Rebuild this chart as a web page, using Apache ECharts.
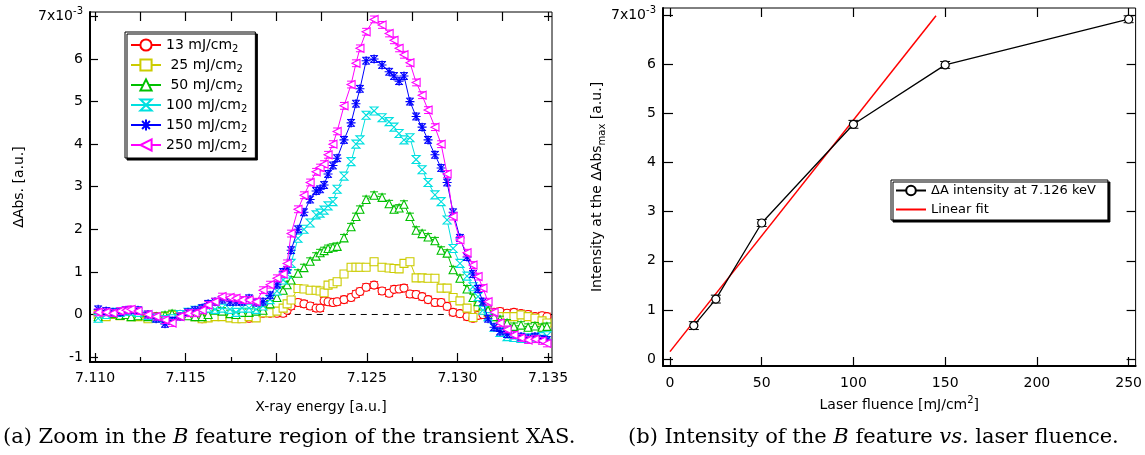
<!DOCTYPE html>
<html><head><meta charset="utf-8">
<script src="https://cdn.jsdelivr.net/npm/echarts@6/dist/echarts.min.js"></script>
<style>html,body{margin:0;padding:0;background:#fff}#c{width:1145px;height:455px}</style>
</head><body><div id="c"></div>
<script>
// ---------- data: panel (a) ----------
const energy = [7.11017,7.11061,7.11099,7.11138,7.11171,7.11199,7.11237,7.11292,7.11337,7.11386,
7.11425,7.11469,7.11513,7.11552,7.11591,7.11624,7.11662,7.11701,7.11745,7.11778,
7.11811,7.11850,7.11889,7.11927,7.11966,7.12004,7.12038,7.12060,7.12082,7.12120,
7.12153,7.12187,7.12220,7.12242,7.12264,7.12286,7.12313,7.12336,7.12374,7.12413,
7.12440,7.12462,7.12496,7.12540,7.12584,7.12623,7.12650,7.12678,7.12705,7.12738,
7.12772,7.12805,7.12838,7.12876,7.12910,7.12943,7.12976,7.13014,7.13053,7.13086,
7.13114,7.13141,7.13169,7.13202,7.13235,7.13274,7.13312,7.13351,7.13390,7.13428,
7.13467,7.13494];
const abs13 = [0.00,-0.02,0.00,0.02,0.00,-0.03,0.00,-0.02,-0.05,-0.05,
-0.03,-0.02,0.00,-0.05,-0.10,-0.05,-0.03,-0.02,-0.05,-0.08,
-0.09,-0.09,-0.05,0.03,0.03,0.03,0.03,0.10,0.20,0.28,
0.25,0.20,0.15,0.15,0.32,0.30,0.28,0.30,0.35,0.40,
0.48,0.54,0.64,0.69,0.55,0.50,0.59,0.60,0.62,0.48,
0.47,0.42,0.35,0.28,0.28,0.19,0.05,0.02,-0.05,-0.09,
-0.02,0.00,0.05,0.05,0.07,0.03,0.05,0.02,0.00,-0.05,
-0.03,-0.05];
const abs25 = [0.00,-0.05,0.00,-0.03,0.02,-0.05,-0.05,-0.10,-0.08,-0.05,
-0.02,0.00,0.00,-0.05,-0.10,-0.08,-0.05,-0.05,-0.08,-0.10,
-0.10,-0.05,-0.08,0.04,0.04,0.08,0.15,0.25,0.34,0.61,
0.60,0.57,0.57,0.55,0.51,0.69,0.72,0.77,0.95,1.11,
1.11,1.11,1.11,1.24,1.11,1.09,1.08,1.07,1.20,1.24,
0.86,0.86,0.85,0.85,0.62,0.62,0.40,0.32,0.15,-0.07,
0.18,0.10,0.05,0.00,-0.05,-0.05,-0.05,-0.01,-0.05,-0.09,
-0.15,-0.20];
const abs50 = [-0.05,0.00,0.02,-0.02,0.00,-0.05,-0.03,-0.05,-0.05,-0.02,
0.02,0.00,-0.03,-0.05,-0.05,0.00,0.10,0.08,0.02,0.00,
0.05,0.05,0.08,0.10,0.25,0.40,0.57,0.70,0.81,0.97,
1.10,1.25,1.37,1.45,1.50,1.55,1.58,1.60,1.80,2.06,
2.30,2.47,2.70,2.80,2.75,2.60,2.47,2.50,2.59,2.30,
1.98,1.90,1.82,1.73,1.51,1.44,1.05,0.85,0.60,0.40,
0.30,0.20,0.10,-0.05,-0.12,-0.20,-0.28,-0.25,-0.30,-0.27,
-0.30,-0.28];
const abs100 = [-0.09,0.00,0.05,0.05,0.08,0.08,0.05,-0.02,-0.08,-0.12,
-0.10,0.00,0.05,0.10,0.12,0.15,0.12,0.15,0.12,0.05,
0.15,0.15,0.12,0.20,0.35,0.55,0.81,0.95,1.20,1.79,
2.00,2.15,2.34,2.38,2.45,2.55,2.65,2.94,3.25,3.59,
4.00,4.10,4.68,4.78,4.62,4.53,4.40,4.25,4.10,4.15,
3.64,3.40,3.10,2.81,2.65,2.22,1.55,1.20,0.90,0.65,
0.42,0.10,-0.05,-0.30,-0.42,-0.52,-0.54,-0.56,-0.55,-0.55,
-0.52,-0.50];
const abs150 = [0.12,0.08,0.05,0.05,0.10,0.10,0.10,0.00,-0.10,-0.22,
-0.15,-0.05,0.05,0.10,0.15,0.25,0.30,0.35,0.30,0.30,
0.30,0.38,0.28,0.30,0.45,0.70,1.00,1.05,1.51,2.00,
2.40,2.70,2.90,2.94,3.04,3.30,3.50,3.67,4.10,4.50,
4.95,5.30,5.96,6.00,5.86,5.70,5.60,5.48,5.60,5.00,
4.65,4.40,4.10,3.75,3.44,3.10,2.40,1.80,1.35,0.95,
0.60,0.30,-0.10,-0.30,-0.40,-0.46,-0.48,-0.52,-0.56,-0.52,
-0.58,-0.60];
const abs250 = [0.05,0.05,0.03,0.08,0.10,0.12,0.08,0.00,-0.05,-0.13,
-0.20,-0.05,0.03,0.03,0.10,0.22,0.30,0.42,0.40,0.38,
0.34,0.34,0.30,0.57,0.70,0.85,0.95,1.20,1.90,2.47,
2.80,3.10,3.35,3.45,3.53,3.75,4.00,4.30,4.90,5.40,
5.90,6.25,6.64,6.93,6.80,6.60,6.44,6.25,6.10,5.91,
5.45,5.15,4.80,4.40,4.00,3.30,2.30,1.75,1.45,1.16,
0.89,0.62,0.30,0.05,-0.20,-0.35,-0.48,-0.55,-0.60,-0.58,
-0.62,-0.68];
const seriesNames = ['13 mJ/cm2',' 25 mJ/cm2',' 50 mJ/cm2','100 mJ/cm2','150 mJ/cm2','250 mJ/cm2'];
const seriesErr = [0.08, 0.08, 0.08, 0.08, 0.08, 0.08];
const zeroLineX = [7.1192, 7.1350];
const xTicksA = [7.110, 7.115, 7.120, 7.125, 7.130, 7.135];
const xMinorA = [7.1125, 7.1175, 7.1225, 7.1275, 7.1325];
const yTicksA = [-1, 0, 1, 2, 3, 4, 5, 6, 7];

// ---------- data: panel (b) ----------
const fluence = [13, 25, 50, 100, 150, 250];
const intensity = [0.68, 1.22, 2.77, 4.78, 5.99, 6.92];
const intensityErr = [0.08, 0.08, 0.07, 0.08, 0.07, 0.07];
const fitX = [0, 145];
const fitY = [0.15, 6.99];
const xTicksB = [0, 50, 100, 150, 200, 250];
const yTicksB = [0, 1, 2, 3, 4, 5, 6, 7];

// ---------- styling ----------
const FONT = 'DejaVu Sans';
const SERIF = 'DejaVu Serif';
const colors = ['#ff0000', '#cccc00', '#00c000', '#00e0e0', '#0000ff', '#ff00ff'];
const symbols = ['circle', 'rect', 'triangle',
  'path://M0,0L10,0L0,10L10,10Z',
  'path://M5,0L5,10M0,5L10,5M1.5,1.5L8.5,8.5M1.5,8.5L8.5,1.5',
  'path://M10,0L0,5L10,10Z'];
const allAbs = [abs13, abs25, abs50, abs100, abs150, abs250];

function errRender(col, cap) {
  return function (params, api) {
    const x = api.value(0), lo = api.value(1), hi = api.value(2);
    const a = api.coord([x, hi]), b = api.coord([x, lo]);
    const st = {stroke: col, lineWidth: 1};
    return {type: 'group', children: [
      {type: 'line', shape: {x1: a[0], y1: a[1], x2: b[0], y2: b[1]}, style: st},
      {type: 'line', shape: {x1: a[0] - cap, y1: a[1], x2: a[0] + cap, y2: a[1]}, style: st},
      {type: 'line', shape: {x1: b[0] - cap, y1: b[1], x2: b[0] + cap, y2: b[1]}, style: st}
    ]};
  };
}

const series = [];
series.push({
  type: 'line', xAxisIndex: 0, yAxisIndex: 0, silent: true, symbol: 'none', z: 1,
  data: zeroLineX.map(x => [x, 0]),
  lineStyle: {color: '#000', width: 1, type: [6, 5]}
});
allAbs.forEach((arr, i) => {
  series.push({
    type: 'custom', name: 'err' + i, xAxisIndex: 0, yAxisIndex: 0, z: 2 + i,
    renderItem: errRender(colors[i], 4),
    data: energy.map((e, k) => [e, arr[k] - seriesErr[i], arr[k] + seriesErr[i]]),
    encode: {x: 0, y: [1, 2]}
  });
  series.push({
    type: 'line', name: seriesNames[i], xAxisIndex: 0, yAxisIndex: 0, z: 2 + i,
    data: energy.map((e, k) => [e, arr[k]]),
    symbol: symbols[i], symbolSize: i === 4 ? 9 : 8,
    lineStyle: {color: colors[i], width: 1},
    itemStyle: {color: '#fff', borderColor: colors[i], borderWidth: 1.1}
  });
});
series.push({
  type: 'custom', name: 'errB', xAxisIndex: 3, yAxisIndex: 2, z: 3,
  renderItem: errRender('#000', 5),
  data: fluence.map((f, k) => [f, intensity[k] - intensityErr[k], intensity[k] + intensityErr[k]]),
  encode: {x: 0, y: [1, 2]}
});
series.push({
  type: 'line', name: 'ΔA intensity at 7.126 keV', xAxisIndex: 3, yAxisIndex: 2, z: 4,
  data: fluence.map((f, k) => [f, intensity[k]]),
  symbol: 'circle', symbolSize: 8,
  lineStyle: {color: '#000', width: 1.3},
  itemStyle: {color: '#fff', borderColor: '#000', borderWidth: 1.2}
});
series.push({
  type: 'line', name: 'Linear fit', xAxisIndex: 3, yAxisIndex: 2, z: 2,
  data: fitX.map((x, k) => [x, fitY[k]]),
  symbol: 'none', lineStyle: {color: '#ff0000', width: 1.5},
  itemStyle: {color: 'rgba(0,0,0,0)', borderColor: 'rgba(0,0,0,0)', borderWidth: 0}
});

const axTxt = {color: '#000', fontFamily: FONT, fontSize: 14};
const richSup = {sup: {fontFamily: FONT, fontSize: 10, verticalAlign: 'top', lineHeight: 20, color: '#000'}};
const capStyle = {fontFamily: SERIF, fontSize: 21, fontWeight: 'normal', color: '#000',
  rich: {i: {fontFamily: SERIF, fontSize: 21, fontStyle: 'italic', color: '#000'}}};

function hiddenAxis(grid, pos, min, max, ticks, len) {
  return {gridIndex: grid, type: 'value', position: pos, min: min, max: max,
    axisLine: {show: false, onZero: false},
    axisTick: {inside: true, length: len, customValues: ticks, lineStyle: {color: '#000', width: 1.2}},
    axisLabel: {show: false}, splitLine: {show: false}};
}

const option = {
  animation: false,
  backgroundColor: '#fff',
  title: [
    {text: '(a) Zoom in the {i|B} feature region of the transient XAS.', left: 3, top: 427, padding: 0,
     textStyle: capStyle},
    {text: '(b) Intensity of the {i|B} feature {i|vs.} laser fluence.', left: 628, top: 427, padding: 0,
     textStyle: capStyle}
  ],
  grid: [
    {left: 90, top: 12, width: 462, height: 350, show: true, borderColor: '#000', borderWidth: 1, backgroundColor: 'transparent'},
    {left: 663, top: 8, width: 473, height: 358, show: true, borderColor: '#000', borderWidth: 1, backgroundColor: 'transparent'}
  ],
  legend: [
    {left: 125, top: 32, orient: 'vertical', data: seriesNames, selectedMode: false,
     itemWidth: 30, itemHeight: 14, itemGap: 2, padding: [4, 8, 4, 5],
     backgroundColor: '#fff', borderColor: '#000', borderWidth: 1,
     shadowColor: '#000', shadowOffsetX: 2, shadowOffsetY: 2, shadowBlur: 0,
     formatter: n => n.replace(/cm2$/, 'cm{sub|2}'),
     textStyle: {color: '#000', fontFamily: FONT, fontSize: 14, lineHeight: 18,
       rich: {sub: {fontFamily: FONT, fontSize: 10, verticalAlign: 'bottom', lineHeight: 18, color: '#000'}}}},
    {left: 891, top: 180, orient: 'vertical', data: ['ΔA intensity at 7.126 keV', 'Linear fit'], selectedMode: false,
     itemWidth: 30, itemHeight: 12, itemGap: 6, padding: [4, 12, 4, 4],
     backgroundColor: '#fff', borderColor: '#000', borderWidth: 1,
     shadowColor: '#000', shadowOffsetX: 2, shadowOffsetY: 2, shadowBlur: 0,
     textStyle: {color: '#000', fontFamily: FONT, fontSize: 13}}
  ],
  xAxis: [
    {gridIndex: 0, type: 'value', position: 'bottom', min: 7.10972, max: 7.13522,
     axisLine: {onZero: false, lineStyle: {color: '#000', width: 2}},
     axisTick: {inside: true, length: 9, customValues: xTicksA, lineStyle: {color: '#000', width: 1.2}},
     axisLabel: Object.assign({customValues: xTicksA, margin: 9, formatter: v => v.toFixed(3)}, axTxt),
     splitLine: {show: false},
     name: 'X-ray energy [a.u.]', nameLocation: 'middle', nameGap: 38,
     nameTextStyle: {color: '#000', fontFamily: FONT, fontSize: 14}},
    hiddenAxis(0, 'bottom', 7.10972, 7.13522, xMinorA, 5),
    hiddenAxis(0, 'top', 7.10972, 7.13522, xTicksA.concat(xMinorA), 9),
    {gridIndex: 1, type: 'value', position: 'bottom', min: -3.81, max: 253.8,
     axisLine: {onZero: false, lineStyle: {color: '#000', width: 2}},
     axisTick: {inside: true, length: 9, customValues: xTicksB, lineStyle: {color: '#000', width: 1.2}},
     axisLabel: Object.assign({customValues: xTicksB, margin: 10}, axTxt),
     splitLine: {show: false},
     name: 'Laser fluence [mJ/cm{sup|2}]', nameLocation: 'middle', nameGap: 29,
     nameTextStyle: {color: '#000', fontFamily: FONT, fontSize: 14, rich: richSup}},
    hiddenAxis(1, 'top', -3.81, 253.8, xTicksB, 9)
  ],
  yAxis: [
    {gridIndex: 0, type: 'value', position: 'left', min: -1.116, max: 7.104,
     axisLine: {onZero: false, lineStyle: {color: '#000', width: 2}},
     axisTick: {inside: true, length: 8, customValues: yTicksA, lineStyle: {color: '#000', width: 1.2}},
     axisLabel: Object.assign({customValues: yTicksA, margin: 7,
       formatter: v => v === 7 ? '7x10{sup|-3}' : String(v), rich: richSup}, axTxt),
     splitLine: {show: false},
     name: 'ΔAbs. [a.u.]', nameLocation: 'middle', nameGap: 64, nameRotate: 90,
     nameTextStyle: {color: '#000', fontFamily: FONT, fontSize: 14}},
    hiddenAxis(0, 'right', -1.116, 7.104, yTicksA, 8),
    {gridIndex: 1, type: 'value', position: 'left', min: -0.1426, max: 7.149,
     axisLine: {onZero: false, lineStyle: {color: '#000', width: 2}},
     axisTick: {inside: true, length: 10, customValues: yTicksB, lineStyle: {color: '#000', width: 1.2}},
     axisLabel: Object.assign({customValues: yTicksB, margin: 7,
       formatter: v => v === 7 ? '7x10{sup|-3}' : String(v), rich: richSup}, axTxt),
     splitLine: {show: false},
     name: 'Intensity at the ΔAbs{sub|max} [a.u.]', nameLocation: 'middle', nameGap: 52, nameRotate: 90,
     nameTextStyle: {color: '#000', fontFamily: FONT, fontSize: 14,
       rich: {sub: {fontFamily: FONT, fontSize: 10, verticalAlign: 'bottom', lineHeight: 20, color: '#000'}}}},
    hiddenAxis(1, 'right', -0.1426, 7.149, yTicksB, 9)
  ],
  series: series
};

const chart = echarts.init(document.getElementById('c'), null, {renderer: 'canvas'});
chart.setOption(option);
</script></body></html>
